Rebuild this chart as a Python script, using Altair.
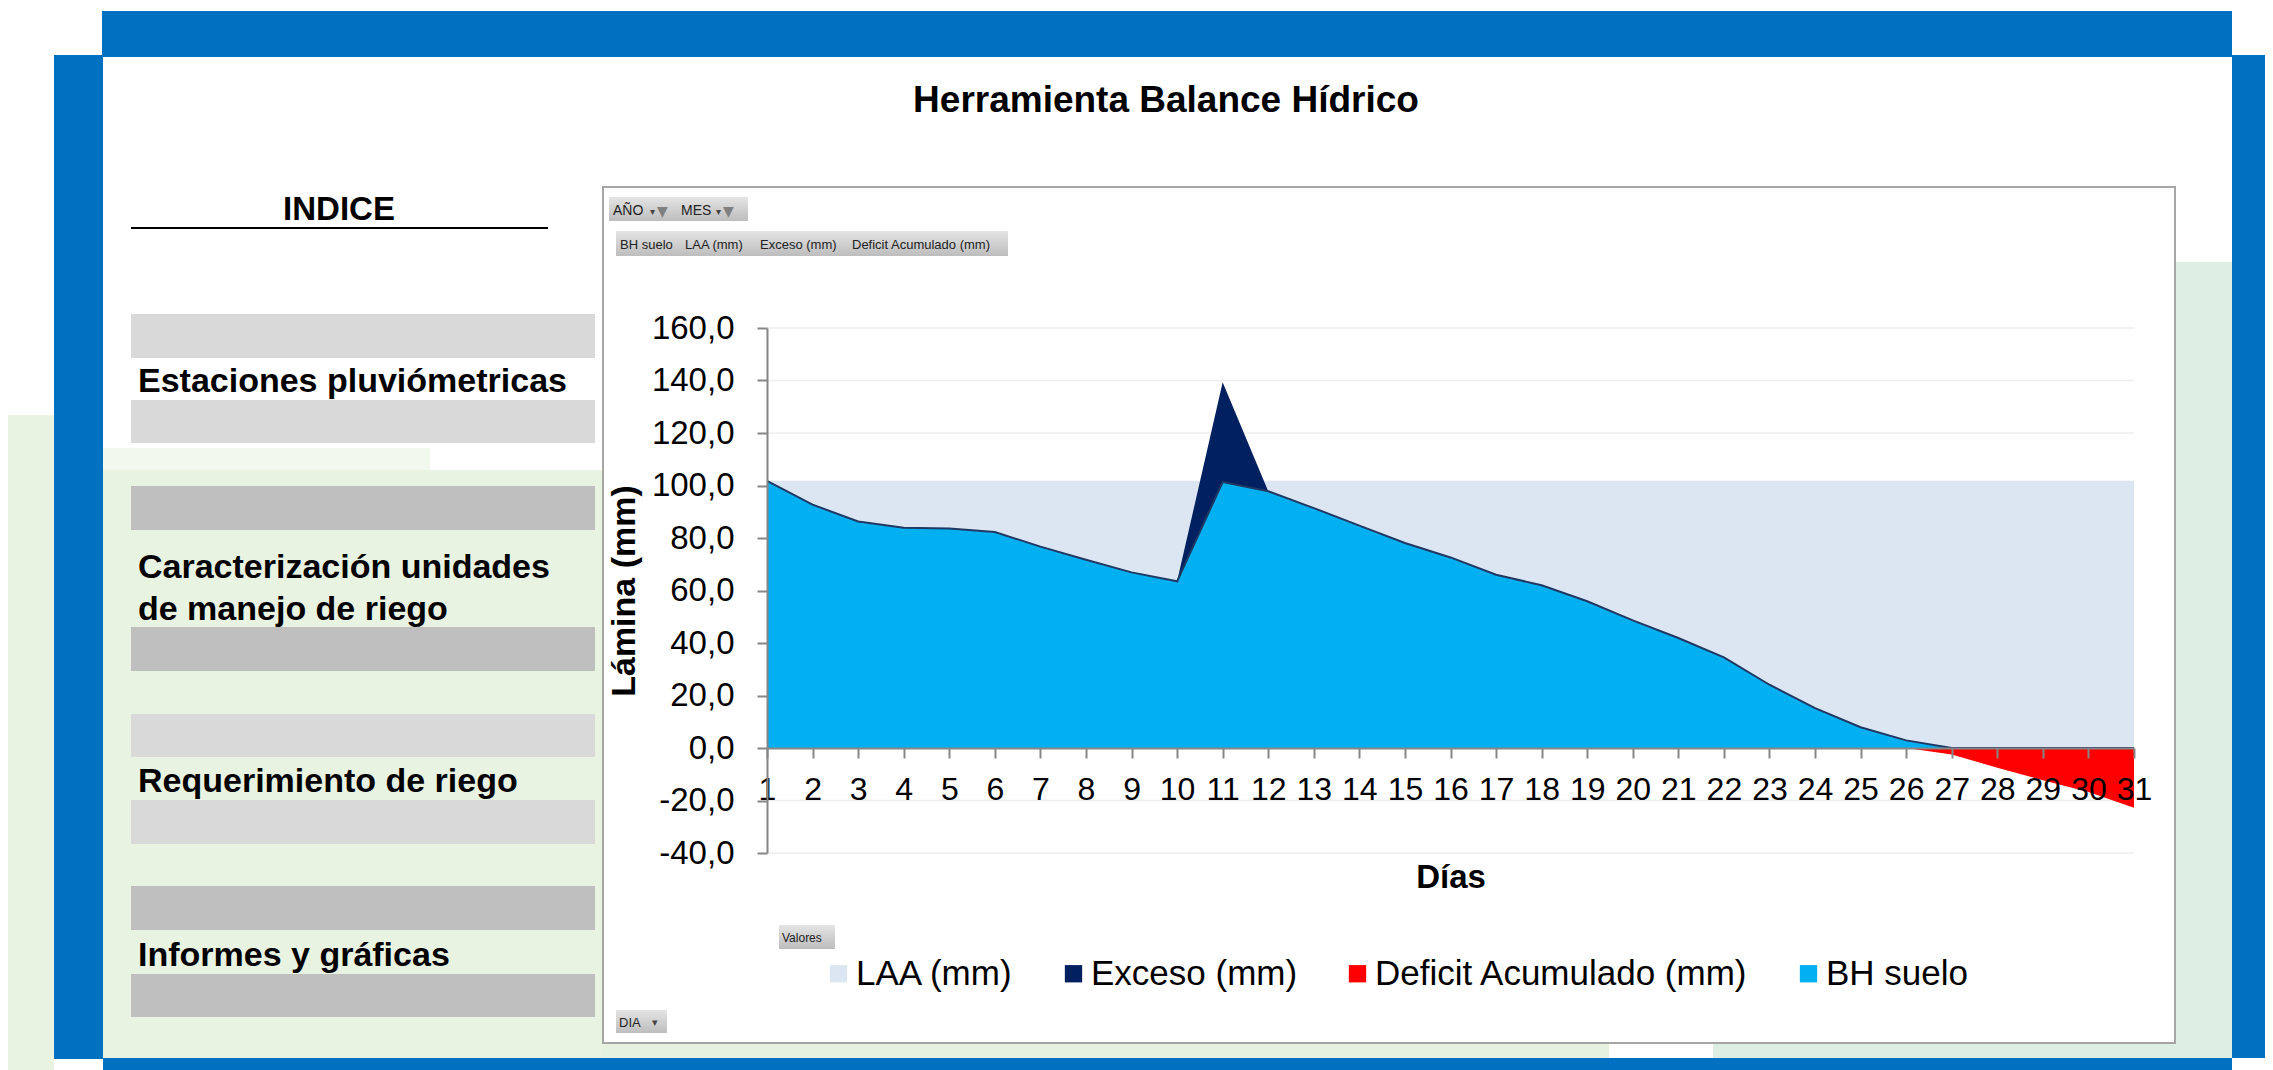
import altair as alt
import pandas as pd

# ---------------- data ----------------
dias = list(range(1, 32))
bh_suelo = [101.8, 92.7, 86.3, 83.9, 83.6, 82.3, 76.7, 71.7, 66.9, 63.5,
            101.3, 97.8, 91.4, 84.7, 78.1, 72.6, 66.0, 62.0, 55.9, 48.6,
            41.9, 34.5, 24.1, 15.2, 7.9, 2.9, 0.0, 0.0, 0.0, 0.0, 0.0]
laa_mm = [101.8, 101.8, 101.8, 101.8, 101.8, 101.8, 101.8, 101.8, 101.8, 101.8,
          101.8, 101.8, 101.8, 101.8, 101.8, 101.8, 101.8, 101.8, 101.8, 101.8,
          101.8, 101.8, 101.8, 101.8, 101.8, 101.8, 101.8, 101.8, 101.8, 101.8, 101.8]
exceso_mm = [0, 0, 0, 0, 0, 0, 0, 0, 0, 0,
             38.0, 0, 0, 0, 0, 0, 0, 0, 0, 0,
             0, 0, 0, 0, 0, 0, 0, 0, 0, 0, 0]
deficit_mm = [0, 0, 0, 0, 0, 0, 0, 0, 0, 0,
              0, 0, 0, 0, 0, 0, 0, 0, 0, 0,
              0, 0, 0, 0, 0, 0, -2.5, -7.5, -12.3, -16.8, -22.8]
y_ticks = [-40, -20, 0, 20, 40, 60, 80, 100, 120, 140, 160]
series = ["LAA (mm)", "Exceso (mm)", "Deficit Acumulado (mm)", "BH suelo"]
colors = ["#dce6f2", "#002060", "#ff0000", "#00b0f0"]

indice_items = ["Estaciones pluviómetricas", "Caracterización unidades",
                "de manejo de riego", "Requerimiento de riego", "Informes y gráficas"]

df = pd.DataFrame({"dia": dias, "bh": bh_suelo, "laa": laa_mm,
                   "exceso": exceso_mm, "deficit": deficit_mm})
df["tope_exceso"] = df["bh"] + df["exceso"]

# ---------------- layout helpers (decorations, page pixel coords) ----------------
FONT = "Liberation Sans, Arial, sans-serif"
W, H = 1367, 525
OX, OY = 767, 328          # plot origin on the page
TOTAL_W, TOTAL_H = 2257, 1062
DUMMY = pd.DataFrame({"k": [0]})


def caja(x1, y1, x2, y2, fill, stroke="", sw=0):
    props = dict(fill=fill, strokeWidth=sw)
    if stroke:
        props["stroke"] = stroke
    return alt.Chart(DUMMY).mark_rect(**props).encode(
        x=alt.value(x1 - OX), x2=alt.value(x2 - OX),
        y=alt.value(y1 - OY), y2=alt.value(y2 - OY))


def texto(x, y, s, size, weight="normal", align="left", color="#000000", font=FONT):
    return alt.Chart(DUMMY).mark_text(
        text=s, fontSize=size, fontWeight=weight, align=align,
        baseline="alphabetic", color=color, font=font).encode(
        x=alt.value(x - OX), y=alt.value(y - OY))


BLUE = "#0070c0"
GL = "#e9f3e2"
GR = "#ddefe3"
LIGHT = "#d9d9d9"
DARK = "#bfbfbf"
btn = alt.LinearGradient(gradient="linear", x1=0, x2=0, y1=0, y2=1,
                         stops=[alt.GradientStop(color="#e4e4e4", offset=0),
                                alt.GradientStop(color="#bdbdbd", offset=1)])

back = [
    caja(0, 415, 54, 1070, GL),
    caja(103, 448, 430, 470, "#f1f8ee"),
    caja(103, 470, 603, 1058, GL),
    caja(2175, 262, 2232, 1058, GR),
    caja(603, 1043, 1609, 1058, "#e6f2e0"),
    caja(1713, 1043, 2232, 1058, GR),
    caja(102, 11, 2232, 57, BLUE),
    caja(54, 55, 103, 1059, BLUE),
    caja(2232, 55, 2273, 1058, BLUE),
    caja(103, 1058, 2232, 1070, BLUE),
    caja(131, 314, 595, 358, LIGHT),
    caja(131, 400, 595, 443, LIGHT),
    caja(131, 486, 595, 530, DARK),
    caja(131, 627, 595, 671, DARK),
    caja(131, 714, 595, 757, LIGHT),
    caja(131, 800, 595, 844, LIGHT),
    caja(131, 886, 595, 930, DARK),
    caja(131, 974, 595, 1017, DARK),
    caja(131, 227, 548, 229, "#000000"),
    caja(603, 187, 2175, 1043, "#ffffff", "#a6a6a6", 2),
    caja(609, 197, 748, 221, btn),
    caja(616, 231, 1008, 256, btn),
    caja(779, 925, 835, 949, btn),
    caja(616, 1010, 667, 1033, btn),
]

front = [
    texto(1166, 112, "Herramienta Balance Hídrico", 37, "bold", "center"),
    texto(339, 220, "INDICE", 33, "bold", "center"),
    texto(138, 392, indice_items[0], 34, "bold"),
    texto(138, 578, indice_items[1], 34, "bold"),
    texto(138, 620, indice_items[2], 34, "bold"),
    texto(138, 792, indice_items[3], 34, "bold"),
    texto(138, 966, indice_items[4], 34, "bold"),
    texto(613, 215, "AÑO", 14, color="#222222"),
    texto(650, 215, "▾", 10, color="#444444", font="DejaVu Sans"),
    texto(657, 216, "▼", 14, color="#7f7f7f", font="DejaVu Sans"),
    texto(681, 215, "MES", 14, color="#222222"),
    texto(716, 215, "▾", 10, color="#444444", font="DejaVu Sans"),
    texto(723, 216, "▼", 14, color="#7f7f7f", font="DejaVu Sans"),
    texto(620, 249, "BH suelo", 13, color="#222222"),
    texto(685, 249, "LAA (mm)", 13, color="#222222"),
    texto(760, 249, "Exceso (mm)", 13, color="#222222"),
    texto(852, 249, "Deficit Acumulado (mm)", 13, color="#222222"),
    texto(782, 942, "Valores", 12, color="#222222"),
    texto(619, 1027, "DIA", 13, color="#222222"),
    texto(652, 1026, "▾", 11, color="#444444", font="DejaVu Sans"),
]

# ---------------- main chart ----------------
x_axis = alt.Axis(values=dias, format="d", labelFontSize=32, labelFont=FONT,
                  labelColor="#000000", labelPadding=16, labelOverlap=False,
                  labelFlush=False, tickSize=10, tickColor="#868686", tickWidth=2,
                  domainColor="#868686", domainWidth=2, offset=-H / 5,
                  grid=False, title="Días", titleFont=FONT, titleFontSize=33,
                  titleFontWeight="bold", titleColor="#000000", titlePadding=56,
                  zindex=1)
y_axis = alt.Axis(values=y_ticks,
                  labelExpr="replace(replace(format(datum.value, '.1f'), '.', ','), '\u2212', '-')",
                  labelFontSize=33, labelFont=FONT, labelColor="#000000",
                  labelPadding=23, tickSize=10, tickColor="#868686", tickWidth=2,
                  domainColor="#868686", domainWidth=2, grid=False,
                  title="Lámina (mm)", titleFont=FONT, titleFontSize=34,
                  titleFontWeight="bold", titleColor="#000000", titlePadding=10,
                  zindex=1)
xs = alt.Scale(domain=[1, 31], nice=False, zero=False)
ys = alt.Scale(domain=[-40, 160], nice=False, zero=False)
legend = alt.Legend(orient="none", legendX=829 - OX - 8, legendY=974 - OY - 18,
                    direction="horizontal", title=None, symbolType="square",
                    symbolSize=300, symbolStrokeWidth=0, labelFontSize=35,
                    labelFont=FONT, labelColor="#000000", labelOffset=0,
                    columnPadding=42, padding=0, labelLimit=1000)
cscale = alt.Scale(domain=series, range=colors)

X = alt.X("dia:Q", scale=xs, axis=x_axis)


def area_layer(field, name):
    return alt.Chart(df).transform_calculate(serie=f"'{name}'").mark_area(
        opacity=1, interpolate="linear").encode(
        x=X, y=alt.Y(f"{field}:Q", scale=ys, axis=y_axis), y2=alt.datum(0),
        color=alt.Color("serie:N", scale=cscale, legend=legend))


grid = alt.Chart(pd.DataFrame({"v": y_ticks})).mark_rule(
    color="#eeeeee", strokeWidth=1.5).encode(y=alt.Y("v:Q", scale=ys, axis=y_axis))

laa = area_layer("laa", series[0])
exc = area_layer("tope_exceso", series[1])
bh = area_layer("bh", series[3])
bh_line = alt.Chart(df).mark_line(color="#1f3864", strokeWidth=2).encode(
    x=X, y=alt.Y("bh:Q", scale=ys, axis=y_axis))
dfc = area_layer("deficit", series[2])

chart = alt.layer(*back, grid, laa, exc, bh, bh_line, dfc, *front).properties(
    width=W, height=H,
    autosize=alt.AutoSizeParams(type="none"),
    padding={"left": OX - 8, "top": OY - 8, "right": TOTAL_W - (OX - 8) - W,
             "bottom": TOTAL_H - (OY - 8) - H},
    background="#ffffff",
).configure_view(strokeWidth=0)

chart.save("out.html", embed_options={"renderer": "svg", "actions": False})
